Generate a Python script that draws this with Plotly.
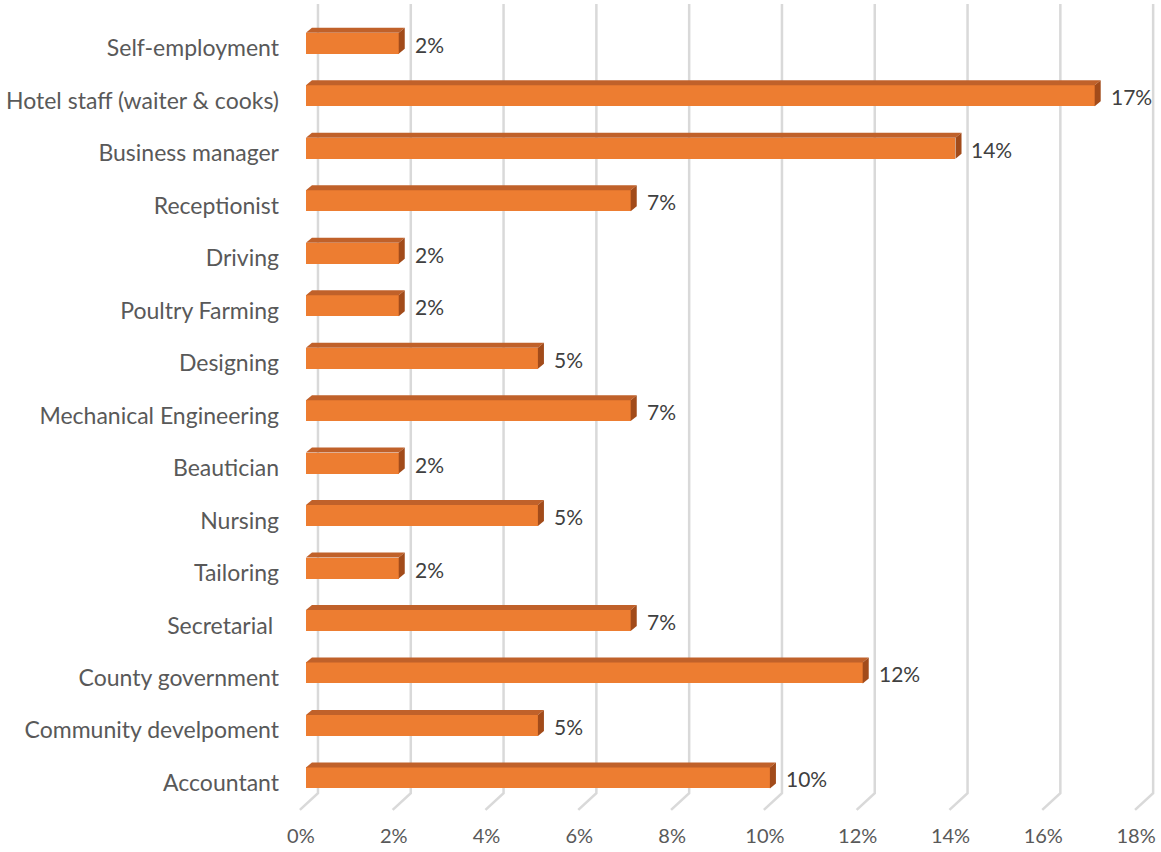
import plotly.graph_objects as go

# Occupations (top to bottom) and share of respondents (%)
categories = [
    "Self-employment",
    "Hotel staff (waiter & cooks)",
    "Business manager",
    "Receptionist",
    "Driving",
    "Poultry Farming",
    "Designing",
    "Mechanical Engineering",
    "Beautician",
    "Nursing",
    "Tailoring",
    "Secretarial ",
    "County government",
    "Community develpoment",
    "Accountant",
]
values = [2, 17, 14, 7, 2, 2, 5, 7, 2, 5, 2, 7, 12, 5, 10]
x_ticks = [0, 2, 4, 6, 8, 10, 12, 14, 16, 18]
x_tick_labels = [f"{t}%" for t in x_ticks]

FONT = "Lato, 'Open Sans', sans-serif"
FRONT = "#ED7D31"
TOP = "#C0612A"
SIDE = "#A24B1A"
GRID = "#D9D9D9"

# depth of the pseudo-3D extrusion, in data units
DX, DY = 0.13, 0.095
HALF = 0.20          # half height of the front face
BACK_DX = 0.26       # back-wall offset of gridlines
FLOOR_DX = -0.13     # front edge of the floor
Y_TOP, Y_WALL, Y_FLOOR = -0.75, 14.29, 14.61

pos = list(range(len(categories)))

fig = go.Figure()
fig.add_trace(go.Bar(
    x=values, y=pos, orientation="h", width=2 * HALF,
    marker=dict(color=FRONT, line=dict(width=0)),
    hoverinfo="skip", showlegend=False,
))

shapes = []
# gridlines: back wall plus the slanted floor segment
for t in x_ticks:
    shapes.append(dict(
        type="path", layer="below", xref="x", yref="y",
        path=(f"M {t + BACK_DX} {Y_TOP} L {t + BACK_DX} {Y_WALL} "
              f"L {t + FLOOR_DX} {Y_FLOOR}"),
        line=dict(color=GRID, width=2.5),
    ))

# top and end faces of each bar
for i, v in zip(pos, values):
    y0 = i - HALF
    y1 = i + HALF
    shapes.append(dict(
        type="path", layer="above", xref="x", yref="y",
        path=(f"M 0 {y0} L {DX} {y0 - DY} L {v + DX} {y0 - DY} "
              f"L {v} {y0} Z"),
        fillcolor=TOP, line=dict(width=0),
    ))
    shapes.append(dict(
        type="path", layer="above", xref="x", yref="y",
        path=(f"M {v} {y0} L {v + DX} {y0 - DY} L {v + DX} {y1 - DY} "
              f"L {v} {y1} Z"),
        fillcolor=SIDE, line=dict(width=0),
    ))

annotations = [
    dict(x=v, y=i, xref="x", yref="y", text=f"{v}%", showarrow=False,
         xanchor="left", yanchor="middle", xshift=14, yshift=-1,
         font=dict(family=FONT, size=21, color="#404040"))
    for i, v in zip(pos, values)
]

fig.update_layout(
    width=1161, height=852,
    margin=dict(l=292, r=6, t=4, b=40),
    paper_bgcolor="white", plot_bgcolor="white",
    font=dict(family=FONT, size=20, color="#404040"),
    shapes=shapes, annotations=annotations,
    bargap=0,
    xaxis=dict(
        range=[-0.3, 18.3], tickvals=x_ticks, ticktext=x_tick_labels,
        showgrid=False, zeroline=False, showline=False, ticks="",
        ticklabelshift=-5, ticklabelstandoff=10,
        tickfont=dict(family=FONT, size=20, color="#595959"),
        fixedrange=True,
    ),
    yaxis=dict(
        range=[14.65, Y_TOP], tickvals=pos, ticktext=categories,
        showgrid=False, zeroline=False, showline=False, ticks="",
        ticklabelstandoff=12, ticklabelshift=-5,
        tickfont=dict(family=FONT, size=23, color="#595959"),
        fixedrange=True,
    ),
)

fig.write_html("out.html")
